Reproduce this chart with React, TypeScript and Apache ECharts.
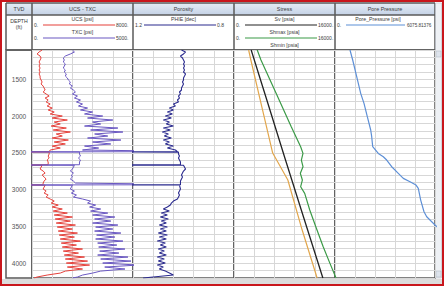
import React, { useEffect, useRef } from 'react';
import * as echarts from 'echarts';

// ---- depth axis ----
const depthMin = 1100;
const depthMax = 4200;
const depthLabels = [1500, 2000, 2500, 3000, 3500, 4000];

// ---- track titles / legend texts ----
const trackTitles = ['TVD', 'UCS - TXC', 'Porosity', 'Stress', 'Pore Pressure'];

// ---- log curves (shared depth for UCS, TXC, PHIE) ----
const logDepth = [
  1100, 1127, 1154, 1182, 1209, 1236, 1263, 1290, 1318, 1345, 1372, 1399, 1426, 1454, 1481,
  1508, 1535, 1562, 1590, 1617, 1644, 1671, 1698, 1726, 1753, 1780, 1807, 1834, 1862, 1889,
  1916, 1943, 1970, 1998, 2025, 2052, 2079, 2106, 2134, 2161, 2188, 2215, 2242, 2270, 2297,
  2324, 2351, 2378, 2406, 2433, 2460, 2482, 2485, 2488, 2514, 2542, 2569, 2596, 2623, 2660,
  2664, 2668, 2718, 2746, 2773, 2800, 2827, 2854, 2882, 2909, 2932, 2935, 2938, 2990, 3018,
  3045, 3072, 3099, 3126, 3154, 3181, 3208, 3235, 3262, 3290, 3317, 3344, 3371, 3398, 3426,
  3453, 3480, 3507, 3534, 3562, 3589, 3616, 3643, 3670, 3698, 3725, 3752, 3779, 3806, 3834,
  3861, 3888, 3915, 3942, 3970, 3997, 4024, 4051, 4078, 4106, 4133, 4160, 4187, 4200,
];
const ucs = [
  800, 560, 400, 640, 720, 640, 560, 640, 560, 640, 560, 640, 560, 640, 640,
  720, 800, 720, 880, 960, 1040, 880, 1120, 1360, 1040, 1280, 1120, 1440, 1200, 1600,
  1280, 1760, 1440, 2400, 1600, 2800, 1760, 2240, 1520, 2720, 1680, 3040, 1920, 2400, 1600,
  2880, 1760, 2640, 1600, 2240, 1440, 1360, -1000, 1360, 1360, 1280, 1360, 1200, 1280, 1280,
  -1000, 800, 640, 880, 1040, 800, 960, 1120, 960, 880, 880, -1000, 1040, 880, 1120,
  960, 1280, 1120, 1440, 1760, 1520, 2080, 1600, 2400, 1680, 2800, 1760, 3200, 1840, 3040,
  1920, 3440, 2000, 3200, 2080, 3600, 2160, 3360, 2240, 3840, 2320, 3520, 2400, 4000, 2480,
  3680, 2560, 4160, 2640, 4400, 2720, 4560, 2800, 4000, 2640, 2240, 1200, 400, 160,
];
const txc = [
  2000, 2100, 1900, 1650, 1550, 1600, 1550, 1650, 1600, 1550, 1650, 1600, 1700, 1650, 1750,
  1800, 1900, 1850, 2000, 1900, 2050, 2150, 2000, 2250, 2100, 2400, 2200, 2500, 2300, 2750,
  2400, 3000, 2600, 3500, 2750, 4000, 3000, 3400, 2600, 4250, 2900, 4500, 3100, 3750, 2750,
  4400, 3000, 3900, 2600, 3300, 2500, 9000, -1000, 2350, 2350, 2400, 2300, 2400, 2350, 2350,
  -1000, 2100, 2000, 1900, 2050, 1950, 2000, 1900, 2050, 2150, 9000, -1000, 2000, 1900, 2100,
  1950, 2200, 2050, 2500, 2900, 2750, 3150, 2850, 3400, 2900, 3750, 3000, 4100, 3100, 3900,
  3000, 4250, 3150, 4000, 3100, 4400, 3200, 4100, 3150, 4500, 3250, 4200, 3300, 4600, 3350,
  4300, 3250, 4750, 3400, 4900, 3500, 5250, 3600, 4600, 3400, 3000, 2500, 2250, 2000,
];
const phie = [
  1.008, 0.992, 1.0, 1.012, 1.004, 1.0, 0.996, 1.0, 0.996, 1.0, 0.996, 1.0, 0.992, 0.996, 1.0,
  1.0, 1.004, 1.0, 1.004, 1.008, 1.008, 1.016, 1.012, 1.02, 1.016, 1.024, 1.02, 1.04, 1.032, 1.056,
  1.04, 1.064, 1.044, 1.072, 1.048, 1.08, 1.056, 1.068, 1.04, 1.08, 1.052, 1.084, 1.06, 1.076, 1.048,
  1.08, 1.056, 1.072, 1.04, 1.064, 1.032, 1.024, 1.4, 1.02, 1.02, 1.016, 1.02, 1.016, 1.012, 1.012,
  1.4, 1.0, 0.992, 1.0, 1.004, 1.008, 1.004, 1.008, 1.012, 1.012, 1.012, 1.4, 1.016, 1.012, 1.016,
  1.02, 1.016, 1.02, 1.024, 1.04, 1.048, 1.052, 1.064, 1.08, 1.056, 1.088, 1.064, 1.092, 1.06, 1.088,
  1.068, 1.096, 1.064, 1.092, 1.068, 1.1, 1.064, 1.096, 1.068, 1.104, 1.072, 1.092, 1.068, 1.1, 1.076,
  1.096, 1.068, 1.104, 1.076, 1.1, 1.072, 1.104, 1.08, 1.096, 1.072, 1.056, 1.04, 1.12, 1.16,
];

// ---- stress curves ----
const svDepth = [1100, 1780, 2596, 3276, 4200];
const sv = [2720, 5200, 8160, 10660, 14080];
const shminDepth = [1100, 1236, 1916, 2501, 2664, 2868, 3548, 4200];
const shmin = [2320, 2670, 4530, 6130, 7200, 8530, 10800, 13170];
const shmaxDepth = [1100, 1236, 1689, 2143, 2415, 2505, 2596, 2687, 2777, 2868, 2959, 3049, 3276, 3503, 3775, 4001, 4200];
const shmax = [3680, 4270, 6670, 9070, 10560, 10930, 10670, 10930, 10510, 10830, 10560, 11200, 12000, 12960, 14130, 15200, 16160];

// ---- pore pressure ----
const ppDepth = [1100, 1236, 1463, 1689, 1825, 2007, 2188, 2279, 2415, 2506, 2551, 2596, 2687, 2777, 2845, 2891, 2936, 2981, 3140, 3299, 3367, 3480, 3560];
const pp = [911, 1075, 1318, 1561, 1762, 1963, 2169, 2230, 2291, 2631, 2935, 3141, 3445, 3846, 4150, 4557, 4922, 5061, 5207, 5408, 5572, 6076, 6500];

// ---- curve scales ----
const ucsScale = [0, 8000];
const txcScale = [0, 5000];
const phieScale = [0.8, 1.2];
const stressScale = [0, 16000];
const ppScale = [0, 6075.81376];

const C = {
  ucs: '#e5413b',
  txc: '#6a58c2',
  phie: '#2b2b8e',
  sv: '#222222',
  shmax: '#3b9a47',
  shmin: '#e2a64c',
  pp: '#5d8fd6',
  border: '#5a5a5a',
  grid: '#d7d7d7',
  text: '#3a3a3a',
};

const FONT = 'Liberation Sans';

function pairs(xs: number[], ds: number[]) {
  return xs.map((v, i) => [v, ds[i]]);
}

// track boundaries (px)
const X = [6, 32, 133, 234, 335, 435];
const TOP = 50;
const BOTTOM = 278;

function txt(text: string, x: number, y: number, size: number, align = 'center', color = C.text) {
  return {
    type: 'text',
    silent: true,
    style: {
      text, x, y, fill: color, fontSize: size, fontFamily: FONT,
      align, textAlign: align, verticalAlign: 'middle', textVerticalAlign: 'middle',
    },
  };
}
function ln(x1: number, y1: number, x2: number, y2: number, color: string, w = 1) {
  return { type: 'line', silent: true, shape: { x1, y1, x2, y2 }, style: { stroke: color, lineWidth: w } };
}

function legend(trackIdx: number, title: string, y: number, color: string | null, left: string, right: string) {
  const x0 = X[trackIdx];
  const x1 = X[trackIdx + 1];
  const cx = (x0 + x1) / 2;
  const els: any[] = [txt(title, cx, y, 5.2)];
  if (color) {
    els.push(ln(x0 + 11, y + 6, x1 - 18, y + 6, color, 1.2));
    els.push(txt(left, x0 + 2, y + 6, 5, 'left'));
    els.push(txt(right, x1 - 17, y + 6, 5, 'left'));
  }
  return els;
}

export default function App() {
  const ref = useRef<HTMLDivElement>(null);
  useEffect(() => {
    if (!ref.current) return;
    const chart = echarts.init(ref.current, null, { renderer: 'svg' });

    const grids = [0, 1, 2, 3, 4].map((i) => ({
      left: X[i],
      top: TOP,
      width: X[i + 1] - X[i],
      height: BOTTOM - TOP,
      show: true,
      borderColor: C.border,
      borderWidth: 1.5,
    }));

    const frameX = (gi: number, show: boolean) => ({
      type: 'value', gridIndex: gi, min: 0, max: 100, interval: 20,
      axisLine: { show: false }, axisTick: { show: false }, axisLabel: { show: false },
      splitLine: { show, lineStyle: { color: C.grid, width: 1 } },
    });
    const hiddenX = (gi: number, scale: number[], inverse = false) => ({
      type: 'value', gridIndex: gi, min: scale[0], max: scale[1], inverse, show: false,
      splitLine: { show: false },
    });

    const yAxes = [0, 1, 2, 3, 4].map((gi) => ({
      type: 'value', gridIndex: gi, inverse: true, min: depthMin, max: depthMax, interval: 100,
      axisLine: { show: false }, axisTick: { show: false },
      axisLabel: gi === 0
        ? {
            show: true, inside: true, margin: 13, align: 'center', fontSize: 6.5, color: '#555',
            fontFamily: FONT,
            formatter: (v: number) => (depthLabels.indexOf(v) >= 0 ? String(v) : ''),
          }
        : { show: false },
      splitLine: { show: gi !== 0, lineStyle: { color: C.grid, width: 1 } },
    }));

    const lineSeries = (name: string, xi: number, yi: number, data: number[][], color: string, width = 1) => ({
      name, type: 'line', xAxisIndex: xi, yAxisIndex: yi, data, showSymbol: false, symbol: 'none',
      clip: true, silent: true,
      lineStyle: { color, width }, z: 3,
    });

    const headerGrad = new echarts.graphic.LinearGradient(0, 0, 0, 1, [
      { offset: 0, color: '#e6edf6' },
      { offset: 1, color: '#c4d2e6' },
    ]);

    const graphic: any[] = [
      { type: 'rect', silent: true, shape: { x: X[0], y: 3, width: X[5] - X[0], height: 12 }, style: { fill: headerGrad } },
      ln(X[0], 3, X[5], 3, C.border, 1.5),
      ln(X[0], 15, X[5], 15, C.border, 1.5),
      ln(X[0], TOP, X[5], TOP, C.border, 1.5),
      ...X.map((x) => ln(x, 3, x, TOP, C.border, 1.5)),
      ...trackTitles.map((t, i) => txt(t, (X[i] + X[i + 1]) / 2, 9, 5.4)),
      txt('DEPTH', (X[0] + X[1]) / 2, 21, 5.2),
      txt('(ft)', (X[0] + X[1]) / 2, 27, 5.2),
      ...legend(1, 'UCS [psi]', 19, C.ucs, '0.', String(ucsScale[1]) + '.'),
      ...legend(1, 'TXC [psi]', 32, C.txc, '0.', String(txcScale[1]) + '.'),
      ...legend(2, 'PHIE [dec]', 19, C.phie, phieScale[1].toFixed(1), phieScale[0].toFixed(1)),
      ...legend(3, 'Sv [psia]', 19, C.sv, '0.', String(stressScale[1]) + '.'),
      ...legend(3, 'Shmax [psia]', 32, C.shmax, '0.', String(stressScale[1]) + '.'),
      ...legend(3, 'Shmin [psia]', 45, null, '', ''),
      txt('Pore_Pressure [psi]', 378, 19, 5.2),
      ln(X[4] + 11, 25, X[5] - 30, 25, C.pp, 1.2),
      txt('0.', X[4] + 2, 25, 5, 'left'),
      txt(String(ppScale[1]), X[5] - 28, 25, 4.6, 'left'),
      // scrollbar
      { type: 'rect', silent: true, shape: { x: 435.5, y: 3, width: 6, height: 275 }, style: { fill: '#eef1f5', stroke: '#b9bec7', lineWidth: 0.6 } },
      { type: 'rect', silent: true, shape: { x: 436, y: 51, width: 5, height: 6 }, style: { fill: '#dde3ec', stroke: '#aab2bf', lineWidth: 0.5 } },
      { type: 'rect', silent: true, shape: { x: 436, y: 271, width: 5, height: 6 }, style: { fill: '#dde3ec', stroke: '#aab2bf', lineWidth: 0.5 } },
      // bottom band
      { type: 'rect', silent: true, shape: { x: 2, y: 279, width: 440, height: 5 }, style: { fill: '#dcdcdc' } },
      // red frame
      { type: 'rect', silent: true, shape: { x: 1, y: 1, width: 442, height: 284 }, style: { fill: 'none', stroke: '#c9161c', lineWidth: 2 } },
    ];

    chart.setOption({
      animation: false,
      backgroundColor: '#ffffff',
      grid: grids,
      xAxis: [
        { ...frameX(0, false) },
        frameX(1, true),
        hiddenX(1, ucsScale),
        hiddenX(1, txcScale),
        frameX(2, true),
        hiddenX(2, phieScale, true),
        frameX(3, true),
        hiddenX(3, stressScale),
        frameX(4, true),
        hiddenX(4, ppScale),
      ],
      yAxis: yAxes,
      series: [
        lineSeries('UCS', 2, 1, pairs(ucs, logDepth), C.ucs),
        lineSeries('TXC', 3, 1, pairs(txc, logDepth), C.txc),
        lineSeries('PHIE', 5, 2, pairs(phie, logDepth), C.phie, 1.1),
        lineSeries('Shmin', 7, 3, pairs(shmin, shminDepth), C.shmin, 1.2),
        lineSeries('Shmax', 7, 3, pairs(shmax, shmaxDepth), C.shmax, 1.2),
        lineSeries('Sv', 7, 3, pairs(sv, svDepth), C.sv, 1.3),
        lineSeries('Pore_Pressure', 9, 4, pairs(pp, ppDepth), C.pp, 1.2),
      ],
      graphic,
    });
    return () => chart.dispose();
  }, []);

  return (
    <div
      ref={ref}
      style={{ position: 'fixed', left: 0, top: 0, width: 444, height: 286, background: '#fff' }}
    />
  );
}
